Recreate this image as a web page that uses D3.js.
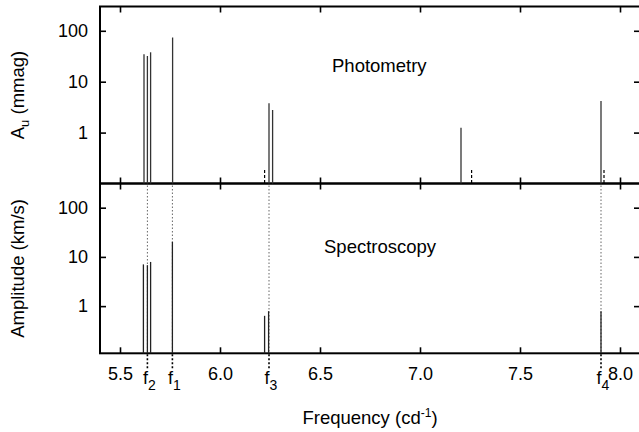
<!DOCTYPE html>
<html lang="en">
<head>
    <meta charset="UTF-8">
    <title>Photometry / Spectroscopy amplitude spectra</title>
    <script src="https://cdn.jsdelivr.net/npm/d3@7/dist/d3.min.js"></script>
    <style>
        body { margin: 0; background: #fff; }
        text { font-family: "Liberation Sans", Arial, Helvetica, sans-serif; fill: #000; }
    </style>
</head>
<body>
<script type="application/javascript">
    // photometric peaks (frequency in c/d, amplitude in mmag)
    const photFreq = [5.620, 5.637, 5.653, 5.763, 6.245, 6.263, 7.205, 7.905];
    const photAmp  = [34.5, 32.0, 37.8, 73.8, 3.76, 2.78, 1.25, 4.17];
    // short dashed marks in the photometry panel
    const aliasFreq = [6.223, 7.258, 7.920];
    const aliasAmp  = [0.184, 0.184, 0.184];
    // spectroscopic peaks (amplitude in km/s)
    const specFreq = [5.617, 5.637, 5.653, 5.762, 6.223, 6.243, 7.905];
    const specAmp  = [7.05, 6.8, 7.9, 20.3, 0.635, 0.79, 0.79];
    // identified frequencies
    const idNames = ['2', '1', '3', '4'];
    const idFreq  = [5.637, 5.762, 6.245, 7.905];
    const xMajor = [5.5, 6.0, 6.5, 7.0, 7.5, 8.0];
    const yMajor = [1, 10, 100];

    const w = 639, h = 432;
    const left = 100, right = 640;
    const top1 = 6.5, bot1 = 183.5, top2 = 183.5, bot2 = 353.3;

    let svg = d3.select('body')
        .append('svg')
        .attr('width', w)
        .attr('height', h);

    let x = d3.scaleLinear().domain([5.4, 8.1]).range([left, right]);
    let y1 = d3.scaleLog().domain([0.1, 300]).range([bot1, top1]);
    let y2 = d3.scaleLog().domain([0.11, 310]).range([bot2, top2]);

    const xMinor = d3.range(54, 82).map(d => d / 10).filter(d => !xMajor.some(m => Math.abs(m - d) < 1e-6));

    function minorLog(scale) {
        return scale.ticks().filter(d => !yMajor.includes(d));
    }

    function panel(y, yTop, yBot, showX) {
        let g = svg.append('g');

        // ticks point inward on all four sides
        let xb = g.append('g').attr('transform', `translate(0,${yBot})`);
        xb.call(d3.axisBottom(x).tickValues(xMinor).tickSize(-3.5).tickFormat(''));
        xb.call(d3.axisBottom(x).tickValues(xMajor).tickSize(-6).tickPadding(14)
            .tickFormat(showX ? d3.format('.1f') : ''));
        let xt = g.append('g').attr('transform', `translate(0,${yTop})`);
        xt.call(d3.axisTop(x).tickValues(xMinor).tickSize(-3.5).tickFormat(''));
        xt.call(d3.axisTop(x).tickValues(xMajor).tickSize(-6).tickFormat(''));

        let yl = g.append('g').attr('transform', `translate(${left},0)`);
        yl.call(d3.axisLeft(y).tickValues(minorLog(y)).tickSize(-3).tickFormat(''));
        yl.call(d3.axisLeft(y).tickValues(yMajor).tickSize(-6).tickPadding(12).tickFormat(d3.format('d')));
        let yr = g.append('g').attr('transform', `translate(${right},0)`);
        yr.call(d3.axisRight(y).tickValues(minorLog(y)).tickSize(-3).tickFormat(''));
        yr.call(d3.axisRight(y).tickValues(yMajor).tickSize(-6).tickFormat(''));

        g.selectAll('.domain').remove();
        g.selectAll('.tick line').attr('stroke', '#000').attr('stroke-width', 1.6);
        g.selectAll('.tick text').attr('font-size', '18px').attr('fill', '#000');

        g.append('rect')
            .attr('x', left).attr('y', yTop)
            .attr('width', right - left).attr('height', yBot - yTop)
            .attr('fill', 'none').attr('stroke', '#000').attr('stroke-width', 2);
        return g;
    }

    // dotted identification lines through the spectroscopy panel
    svg.selectAll('line.id-in')
        .data(idFreq)
        .enter()
        .append('line')
        .attr('x1', d => x(d)).attr('x2', d => x(d))
        .attr('y1', top2 + 2).attr('y2', bot2)
        .attr('stroke', '#666').attr('stroke-width', 1)
        .attr('stroke-dasharray', '1.5,2');
    svg.selectAll('line.id-out')
        .data(idFreq)
        .enter()
        .append('line')
        .attr('x1', d => x(d)).attr('x2', d => x(d))
        .attr('y1', bot2 + 1).attr('y2', 370)
        .attr('stroke', '#000').attr('stroke-width', 1.6)
        .attr('stroke-dasharray', '2,2');

    panel(y1, top1, bot1, false);
    panel(y2, top2, bot2, true);

    // peaks
    svg.append('g').selectAll('line')
        .data(photFreq)
        .enter()
        .append('line')
        .attr('x1', d => x(d)).attr('x2', d => x(d))
        .attr('y1', (d, i) => y1(photAmp[i])).attr('y2', bot1)
        .attr('stroke', '#333').attr('stroke-width', 1.3);
    svg.append('g').selectAll('line')
        .data(aliasFreq)
        .enter()
        .append('line')
        .attr('x1', d => x(d)).attr('x2', d => x(d))
        .attr('y1', (d, i) => y1(aliasAmp[i])).attr('y2', bot1)
        .attr('stroke', '#000').attr('stroke-width', 1.2)
        .attr('stroke-dasharray', '3,2');
    svg.append('g').selectAll('line')
        .data(specFreq)
        .enter()
        .append('line')
        .attr('x1', d => x(d)).attr('x2', d => x(d))
        .attr('y1', (d, i) => y2(specAmp[i])).attr('y2', bot2)
        .attr('stroke', '#222').attr('stroke-width', 1.3);

    // f labels
    let fl = svg.append('g').selectAll('text')
        .data(idFreq)
        .enter()
        .append('text')
        .attr('x', d => x(d) - 4.5)
        .attr('y', 384)
        .attr('font-size', '18px');
    fl.append('tspan').text('f');
    fl.append('tspan').attr('dy', 6).attr('font-size', '14px').text((d, i) => idNames[i]);

    // panel names
    svg.append('text').attr('x', 332).attr('y', 72).attr('font-size', '18.5px').text('Photometry');
    svg.append('text').attr('x', 324).attr('y', 253).attr('font-size', '18.5px').text('Spectroscopy');

    // centre a multi-part text on a given position along its own baseline
    function centre(t, c) {
        let len = t.node().getComputedTextLength();
        t.attr('x', c - len / 2);
    }

    // axis titles
    let xt = svg.append('text')
        .attr('y', 424).attr('font-size', '18.5px');
    xt.append('tspan').text('Frequency (cd');
    xt.append('tspan').attr('dy', -7).attr('font-size', '12px').text('-1');
    xt.append('tspan').attr('dy', 7).text(')');
    centre(xt, (left + right) / 2);

    let ya = svg.append('text')
        .attr('transform', 'translate(24,0) rotate(-90)')
        .attr('y', 0).attr('font-size', '18.5px');
    ya.append('tspan').text('A');
    ya.append('tspan').attr('dy', 5).attr('font-size', '13px').text('u');
    ya.append('tspan').attr('dy', -5).text(' (mmag)');
    centre(ya, -(top1 + bot1) / 2);

    svg.append('text')
        .attr('transform', `translate(24,${(top2 + bot2) / 2}) rotate(-90)`)
        .attr('text-anchor', 'middle').attr('font-size', '18.5px')
        .text('Amplitude (km/s)');
</script>
</body>
</html>
